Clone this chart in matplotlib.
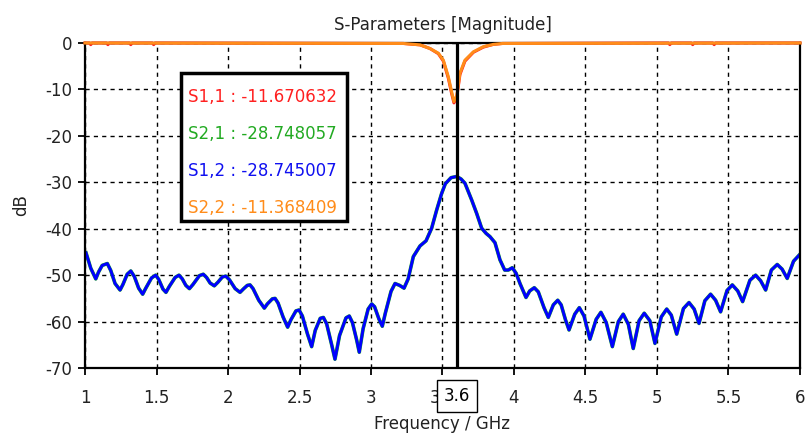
import numpy as np
import matplotlib
matplotlib.use("Agg")
import matplotlib.pyplot as plt

plt.rcParams['font.family'] = ['DejaVu Sans']
plt.rcParams['axes.unicode_minus'] = False

# S1,2 / S2,1 transmission (dB) vs frequency (GHz)
freq_s12 = [1.007, 1.04, 1.075, 1.095, 1.12, 1.156, 1.18, 1.21, 1.245, 1.265,
            1.295, 1.32, 1.345, 1.375, 1.403, 1.425, 1.465, 1.494, 1.515, 1.545,
            1.566, 1.59, 1.63, 1.657, 1.68, 1.705, 1.73, 1.755, 1.8, 1.827,
            1.85, 1.875, 1.904, 1.93, 1.96, 1.984, 2.01, 2.05, 2.084, 2.11,
            2.135, 2.154, 2.175, 2.215, 2.254, 2.275, 2.31, 2.329, 2.35, 2.385,
            2.417, 2.44, 2.475, 2.497, 2.52, 2.555, 2.585, 2.61, 2.645, 2.667,
            2.69, 2.725, 2.748, 2.78, 2.825, 2.848, 2.87, 2.9, 2.918, 2.945,
            2.98, 3.005, 3.025, 3.055, 3.079, 3.1, 3.14, 3.168, 3.2, 3.231,
            3.26, 3.296, 3.343, 3.385, 3.424, 3.459, 3.494, 3.52, 3.56, 3.6,
            3.63, 3.657, 3.704, 3.739, 3.774, 3.805, 3.832, 3.867, 3.902, 3.935,
            3.96, 3.988, 4.015, 4.042, 4.084, 4.11, 4.142, 4.17, 4.21, 4.24,
            4.275, 4.306, 4.33, 4.36, 4.385, 4.425, 4.457, 4.49, 4.531, 4.575,
            4.608, 4.645, 4.688, 4.73, 4.764, 4.8, 4.834, 4.875, 4.911, 4.95,
            4.986, 5.03, 5.068, 5.1, 5.138, 5.185, 5.224, 5.26, 5.294, 5.335,
            5.375, 5.41, 5.445, 5.49, 5.527, 5.565, 5.599, 5.65, 5.69, 5.725,
            5.76, 5.8, 5.841, 5.875, 5.911, 5.955, 6.0]
s12_db = [-45.2, -48.5, -50.8, -49.3, -47.9, -47.5, -49.0, -51.8, -53.2, -52.0,
          -49.8, -49.1, -50.3, -52.8, -54.1, -52.8, -50.6, -50.0, -50.9, -53.0,
          -53.7, -52.4, -50.5, -50.0, -50.8, -52.2, -52.9, -52.0, -50.1, -49.8,
          -50.5, -51.7, -52.3, -51.5, -50.4, -50.2, -51.0, -52.9, -53.7, -52.9,
          -52.2, -52.1, -52.9, -55.4, -57.1, -56.2, -55.1, -55.0, -56.0, -59.0,
          -61.2, -59.6, -57.7, -57.5, -58.8, -62.6, -65.4, -61.9, -59.3, -59.1,
          -60.5, -65.0, -68.1, -63.0, -59.2, -58.8, -60.2, -64.0, -66.6, -61.5,
          -57.3, -56.2, -56.8, -59.4, -61.0, -58.2, -53.5, -51.8, -52.2, -52.8,
          -50.8, -46.0, -43.7, -42.6, -39.9, -36.0, -32.4, -30.3, -29.0, -28.745,
          -29.3, -30.2, -33.8, -36.7, -39.9, -41.0, -41.7, -43.0, -46.7, -48.9,
          -48.9, -48.4, -49.6, -51.8, -54.8, -53.4, -52.7, -53.6, -57.0, -59.1,
          -56.4, -55.4, -56.4, -59.6, -61.8, -58.4, -57.0, -58.8, -63.8, -59.5,
          -58.0, -60.2, -65.4, -60.0, -58.4, -60.6, -65.8, -59.8, -58.2, -59.8,
          -64.7, -59.0, -57.3, -58.6, -62.7, -57.2, -55.9, -57.3, -60.4, -55.5,
          -54.1, -55.4, -57.9, -53.3, -52.1, -53.4, -55.7, -51.1, -50.0, -51.2,
          -53.2, -48.9, -47.7, -48.7, -50.7, -47.0, -45.5]
freq_s21 = list(freq_s12)
s21_db = [v - 0.003 for v in s12_db]

# S1,1 / S2,2 reflection (dB)
freq_s22 = [1.0, 3.226, 3.343, 3.413, 3.471, 3.506, 3.541, 3.564, 3.58, 3.6,
            3.622, 3.657, 3.716, 3.785, 3.855, 3.92, 6.0]
s22_db = [0.0, -0.1, -0.4, -1.2, -2.2, -3.7, -7.3, -10.5, -12.6, -11.368,
          -6.5, -3.7, -1.9, -0.8, -0.3, -0.1, 0.0]
freq_s11 = [1.0, 1.03, 1.04, 1.05, 1.15, 1.16, 1.17, 1.31, 1.32, 1.33,
            1.47, 1.48, 1.49, 3.226, 3.343, 3.413, 3.471, 3.506, 3.541, 3.564,
            3.58, 3.6, 3.622, 3.657, 3.716, 3.785, 3.855, 3.92, 5.08, 5.09, 5.1,
            5.24, 5.25, 5.26, 5.39, 5.4, 5.41, 6.0]
s11_db = [0.0, 0.0, -0.35, 0.0, 0.0, -0.35, 0.0, 0.0, -0.35, 0.0,
          0.0, -0.35, 0.0, -0.1, -0.4, -1.2, -2.3, -3.9, -7.6, -10.9,
          -12.9, -11.671, -6.8, -3.9, -2.0, -0.9, -0.3, -0.1, 0.0, -0.35, 0.0,
          0.0, -0.35, 0.0, 0.0, -0.35, 0.0, 0.0]

marker_freq = 3.6
legend_lines = [("S1,1 : -11.670632", "#ff2020"),
                ("S2,1 : -28.748057", "#22aa22"),
                ("S1,2 : -28.745007", "#1010f0"),
                ("S2,2 : -11.368409", "#ff8c1a")]

fig = plt.figure(figsize=(8.06, 4.41), dpi=100)
ax = fig.add_axes([0.1055, 0.1655, 0.887, 0.737])

ax.plot(freq_s21, s21_db, color="#22aa22", lw=2.6, solid_joinstyle="round")
ax.plot(freq_s12, s12_db, color="#0000ff", lw=2.1, solid_joinstyle="round")
ax.plot(freq_s11, s11_db, color="#ff2020", lw=2.2, clip_on=False)
ax.plot(freq_s22, s22_db, color="#ff8c1a", lw=2.2, clip_on=False, zorder=4)
ax.axvline(marker_freq, color="black", lw=2.3, zorder=5)

ax.set_xlim(1, 6)
ax.set_ylim(-70, 0)
ax.set_xticks(np.arange(1, 6.01, 0.5))
ax.set_xticklabels(["1", "1.5", "2", "2.5", "3", "3.5", "4", "4.5", "5", "5.5", "6"])
ax.set_yticks(np.arange(-70, 1, 10))
ax.grid(True, color="black", ls=(0, (3, 3)), lw=1.0)
ax.tick_params(direction="out", length=5, width=1.3, labelsize=12,
               colors="black", labelcolor="#222222")
ax.tick_params(axis="x", pad=10)
ax.tick_params(axis="y", pad=4)
for sp in ax.spines.values():
    sp.set_linewidth(1.6)

ax.set_title("S-Parameters [Magnitude]", fontsize=12, pad=9, color="#222222")
ax.set_xlabel("Frequency / GHz", fontsize=12, labelpad=6, color="#222222")
ax.set_ylabel("dB", fontsize=12, labelpad=11, color="#222222")

# marker value box on the x axis
ax.text(marker_freq, -0.086, "3.6", transform=ax.get_xaxis_transform(),
        ha="center", va="center", fontsize=12, zorder=6,
        bbox=dict(boxstyle="square,pad=0.42", fc="white", ec="black", lw=1.0))

# marker readout box
fig.patches.append(plt.Rectangle((181 / 806, 1 - 221 / 441), 166 / 806, 148 / 441,
                                 transform=fig.transFigure, fc="white", ec="black",
                                 lw=2.5, zorder=10))
for i, (txt, col) in enumerate(legend_lines):
    fig.text(188 / 806, 1 - (97 + 37 * i) / 441, txt, color=col, fontsize=12,
             va="center", ha="left", zorder=11)

fig.savefig("out.png", dpi=100)
